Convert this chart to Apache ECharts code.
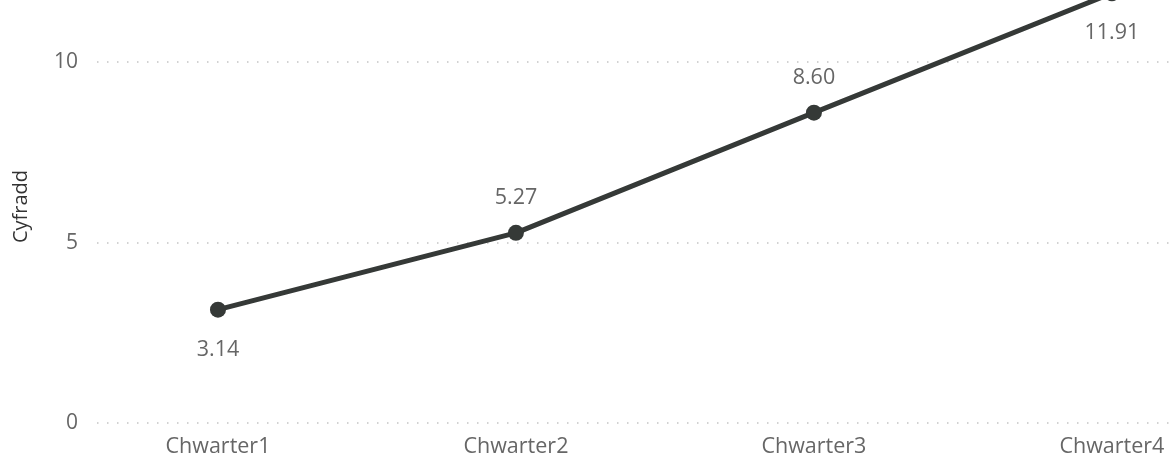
<!DOCTYPE html>
<html>
<head>
<meta charset="utf-8">
<script src="https://cdn.jsdelivr.net/npm/echarts@6/dist/echarts.min.js"></script>
<style>
html,body{margin:0;padding:0;background:#fff;}
#chart{width:1170px;height:460px;}
</style>
</head>
<body>
<div id="chart"></div>
<script>
const categories = ['Chwarter1', 'Chwarter2', 'Chwarter3', 'Chwarter4'];
const values = [3.14, 5.27, 8.60, 11.91];
const yTicks = [0, 5, 10];
const yAxisName = 'Cyfradd';

const FONT = '"Open Sans", "Noto Sans", sans-serif';
const chart = echarts.init(document.getElementById('chart'), null, {renderer: 'canvas'});

const seriesData = values.map((v, i) => {
  const below = (i === 0 || i === categories.length - 1);
  return {
    value: [i, v],
    label: { position: below ? 'bottom' : 'top', distance: below ? 21 : 16 }
  };
});

chart.setOption({
  animation: false,
  backgroundColor: '#ffffff',
  grid: { left: 97, right: 0, top: -10, bottom: 37, containLabel: false, outerBoundsMode: 'none' },
  xAxis: {
    type: 'value',
    min: -0.406,
    max: 3.195,
    axisLine: { show: false },
    axisTick: { show: false },
    splitLine: { show: false },
    axisLabel: {
      customValues: categories.map((c, i) => i),
      formatter: (v) => categories[Math.round(v)] || '',
      color: '#666666',
      fontFamily: FONT,
      fontSize: 21.5,
      margin: 13
    }
  },
  yAxis: {
    type: 'value',
    min: 0,
    max: 12,
    interval: 5,
    name: yAxisName,
    nameLocation: 'middle',
    nameGap: 66,
    nameTextStyle: { color: '#333333', fontFamily: FONT, fontSize: 20 },
    axisLine: { show: false },
    axisTick: { show: false },
    axisLabel: {
      customValues: yTicks,
      color: '#666666',
      fontFamily: FONT,
      fontSize: 21,
      margin: 19
    },
    splitLine: {
      show: true,
      lineStyle: { color: '#c4c4c4', width: 1.5, type: [1.5, 8.5] }
    }
  },
  series: [{
    type: 'line',
    data: seriesData,
    symbol: 'circle',
    symbolSize: 16,
    lineStyle: { color: '#353937', width: 5 },
    itemStyle: { color: '#353937' },
    label: {
      show: true,
      color: '#666666',
      fontFamily: FONT,
      fontSize: 21.5,
      formatter: (p) => p.value[1].toFixed(2)
    }
  }]
});
</script>
</body>
</html>
